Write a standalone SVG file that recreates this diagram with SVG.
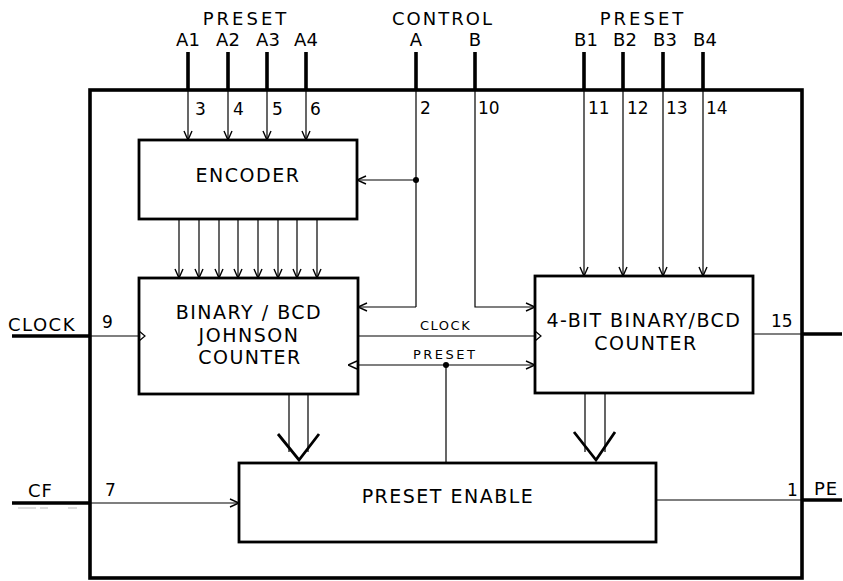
<svg xmlns="http://www.w3.org/2000/svg" width="843" height="581" viewBox="0 0 843 581">
<style>
text{font-family:"DejaVu Sans","Liberation Sans",sans-serif;fill:#000}
.lbl{font-size:19px;letter-spacing:1.5px}
.top{font-size:18px}
.pin{font-size:17px}
.sm{font-size:13px}
.box{fill:none;stroke:#000;stroke-width:2.8}
.thick{stroke:#000;stroke-width:3.6;fill:none}
.thin{stroke:#000;stroke-width:1.2;fill:none}
.arr{stroke:#000;stroke-width:1.2;fill:none;marker-end:url(#a)}
.vee{stroke:#000;stroke-width:2.8;fill:none;stroke-linejoin:miter}
</style>
<defs>
<marker id="a" viewBox="0 0 10 10" refX="10" refY="5" markerWidth="10" markerHeight="10" markerUnits="userSpaceOnUse" orient="auto">
<path d="M1,1 L10,5 L1,9" fill="none" stroke="#000" stroke-width="1.4"/>
</marker>
<marker id="s" viewBox="0 0 10 10" refX="0" refY="5" markerWidth="10" markerHeight="10" markerUnits="userSpaceOnUse" orient="auto-start-reverse">
<path d="M1,1 L10,5 L1,9" fill="none" stroke="#000" stroke-width="1.4"/>
</marker>
</defs>

<g id="outer">
<rect x="90" y="90" width="712" height="488" class="thick"/>
</g>

<g id="labels-top">
<text class="top" x="246" y="25" text-anchor="middle" letter-spacing="3">PRESET</text>
<text class="top" x="188" y="46" text-anchor="middle">A1</text>
<text class="top" x="228" y="46" text-anchor="middle">A2</text>
<text class="top" x="268" y="46" text-anchor="middle">A3</text>
<text class="top" x="306" y="46" text-anchor="middle">A4</text>
<text class="top" x="443" y="25" text-anchor="middle" letter-spacing="2">CONTROL</text>
<text class="top" x="416" y="46" text-anchor="middle">A</text>
<text class="top" x="475" y="46" text-anchor="middle">B</text>
<text class="top" x="643" y="25" text-anchor="middle" letter-spacing="3">PRESET</text>
<text class="top" x="586" y="46" text-anchor="middle">B1</text>
<text class="top" x="625" y="46" text-anchor="middle">B2</text>
<text class="top" x="665" y="46" text-anchor="middle">B3</text>
<text class="top" x="705" y="46" text-anchor="middle">B4</text>
</g>

<g id="pins">
<text class="pin" x="195" y="115">3</text>
<text class="pin" x="233" y="115">4</text>
<text class="pin" x="272" y="115">5</text>
<text class="pin" x="310" y="115">6</text>
<text class="pin" x="420" y="114">2</text>
<text class="pin" x="478" y="114">10</text>
<text class="pin" x="588" y="114">11</text>
<text class="pin" x="627" y="114">12</text>
<text class="pin" x="666" y="114">13</text>
<text class="pin" x="706" y="114">14</text>
<text class="pin" x="102" y="328">9</text>
<text class="pin" x="105" y="496">7</text>
<text class="pin" x="771" y="327">15</text>
<text class="pin" x="787" y="496">1</text>
<text class="top" x="8" y="331" letter-spacing="1.5">CLOCK</text>
<text class="top" x="28" y="497" letter-spacing="1">CF</text>
<text class="top" x="814" y="495" letter-spacing="1">PE</text>
</g>

<g id="encoder">
<rect x="139" y="140" width="218" height="79" class="box"/>
<text class="lbl" x="248" y="182" text-anchor="middle">ENCODER</text>
</g>

<g id="johnson">
<rect x="139" y="278" width="219" height="116" class="box"/>
<text class="lbl" x="249" y="319" text-anchor="middle">BINARY / BCD</text>
<text class="lbl" x="249" y="342" text-anchor="middle">JOHNSON</text>
<text class="lbl" x="250" y="364" text-anchor="middle">COUNTER</text>
</g>

<g id="counter4">
<rect x="535" y="276" width="218" height="117" class="box"/>
<text class="lbl" x="644" y="327" text-anchor="middle">4-BIT BINARY/BCD</text>
<text class="lbl" x="646" y="350" text-anchor="middle">COUNTER</text>
</g>

<g id="presetenable">
<rect x="239" y="463" width="417" height="79" class="box"/>
<text class="lbl" x="448" y="503" text-anchor="middle" letter-spacing="4">PRESET ENABLE</text>
</g>

<g id="connectors">
<path class="thick" d="M188,52V90M228,52V90M267,52V90M306,52V90"/>
<path class="arr" d="M188,90V140"/>
<path class="arr" d="M228,90V140"/>
<path class="arr" d="M267,90V140"/>
<path class="arr" d="M306,90V140"/>
<path class="thick" d="M416,52V90"/>
<path class="thin" d="M416,90V307"/>
<path class="arr" d="M416,180H357"/>
<path class="arr" d="M416,307H358"/>
<circle cx="416" cy="180" r="3"/>
<path class="thick" d="M475,52V90"/>
<path class="arr" d="M475,90V307H535"/>
<path class="thick" d="M584,52V90M623,52V90M663,52V90M703,52V90"/>
<path class="arr" d="M584,90V276"/>
<path class="arr" d="M623,90V276"/>
<path class="arr" d="M663,90V276"/>
<path class="arr" d="M703,90V276"/>
<path class="arr" d="M179,219V278"/>
<path class="arr" d="M199,219V278"/>
<path class="arr" d="M219,219V278"/>
<path class="arr" d="M238,219V278"/>
<path class="arr" d="M258,219V278"/>
<path class="arr" d="M278,219V278"/>
<path class="arr" d="M297,219V278"/>
<path class="arr" d="M317,219V278"/>
<path class="thick" d="M12,336H90"/>
<path class="thin" d="M90,336H139"/>
<path class="thin" d="M139,331L145,336L139,341"/>
<path class="thin" d="M358,336H535"/>
<path class="thin" d="M535,331L541,336L535,341"/>
<text class="sm" x="420" y="330" letter-spacing="1.5">CLOCK</text>
<path class="thin" d="M358,365H535" marker-start="url(#s)" marker-end="url(#a)"/>
<text class="sm" x="413" y="359" letter-spacing="2.5">PRESET</text>
<circle cx="446" cy="365" r="3"/>
<path class="thin" d="M446,365V463" stroke-width="1"/>
<path class="thin" d="M753,334H802"/>
<path class="thick" d="M802,334H842"/>
<path class="thin" d="M289,394V452M308,394V452"/>
<path class="vee" d="M278,434L299,460L319,434"/>
<path class="thin" d="M585,393V452M605,393V452"/>
<path class="vee" d="M574,432L596,460L615,432"/>
<path class="thick" d="M12,503H90"/>
<path class="arr" d="M90,503H239"/>
<path d="M18,508H36M40,508H48M68,508H77" stroke="#bbb" stroke-width="1"/>
<path class="thin" d="M656,500H802"/>
<path class="thick" d="M802,500H842"/>
</g>
</svg>
